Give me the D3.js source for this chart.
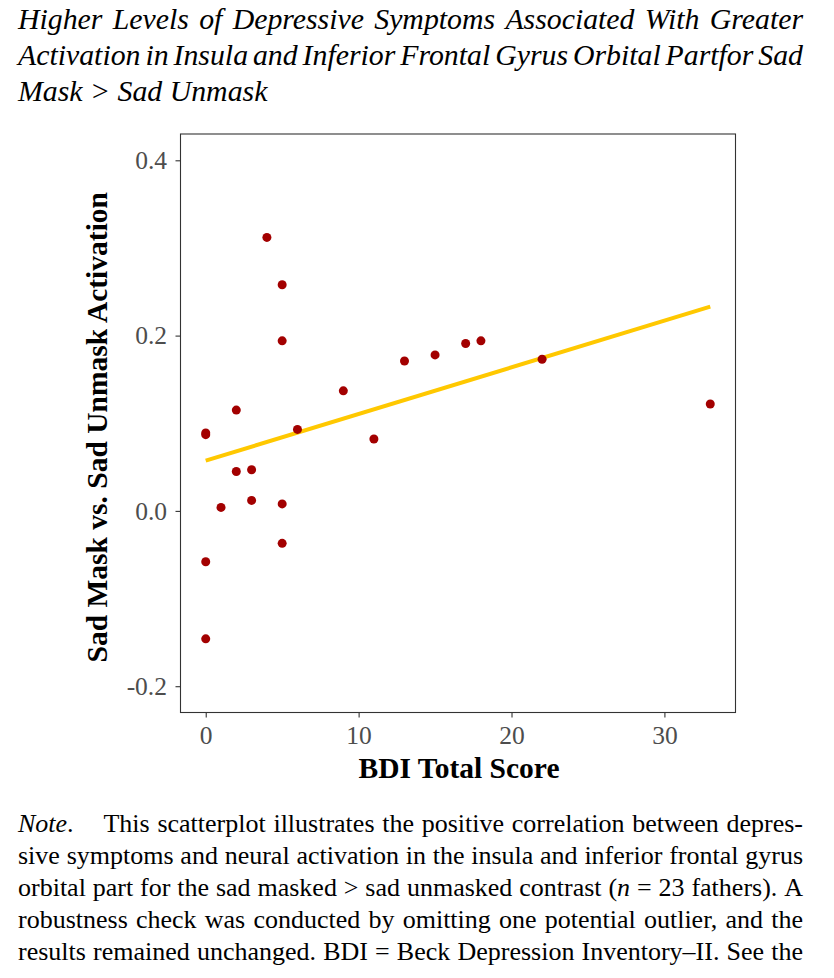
<!DOCTYPE html>
<html>
<head>
<meta charset="utf-8">
<script src="https://cdn.jsdelivr.net/npm/d3@7"></script>
<style>
  html, body { margin: 0; padding: 0; background: #fff; }
  svg { display: block; }
</style>
</head>
<body>
<script>
// ---------------- data ----------------
const bdi = [0, 0, 0, 0, 1, 2, 2, 3, 3, 4, 5, 5, 5, 5, 6, 9, 11, 13, 15, 17, 18, 22, 33];
const activation = [0.089, 0.087, -0.058, -0.146, 0.004, 0.115, 0.045, 0.047, 0.012, 0.312,
                    0.258, 0.194, 0.008, -0.037, 0.093, 0.137, 0.082, 0.171, 0.178, 0.191,
                    0.194, 0.173, 0.122];
const xTicks = [0, 10, 20, 30];
const yTicks = [-0.2, 0.0, 0.2, 0.4];
const yLimits = [-0.2, 0.4];
const xLabel = "BDI Total Score";
const yLabel = "Sad Mask vs. Sad Unmask Activation";
const titleLines = [
  "Higher Levels of Depressive Symptoms Associated With Greater",
  "Activation in Insula and Inferior Frontal Gyrus Orbital Partfor Sad",
  "Mask > Sad Unmask"
];
// *...* marks italic
const noteLines = [
  "*Note*. This scatterplot illustrates the positive correlation between depres-",
  "sive symptoms and neural activation in the insula and inferior frontal gyrus",
  "orbital part for the sad masked > sad unmasked contrast (*n* = 23 fathers). A",
  "robustness check was conducted by omitting one potential outlier, and the",
  "results remained unchanged. BDI = Beck Depression Inventory–II. See the"
];

// ---------------- setup ----------------
const W = 834, H = 978;
const SERIF = "'Liberation Serif', 'Times New Roman', Times, serif";
const svg = d3.select("body").append("svg").attr("width", W).attr("height", H);
svg.append("rect").attr("width", W).attr("height", H).attr("fill", "#fff");

const panel = { left: 180.5, right: 735.5, top: 134, bottom: 712.5 };

function expand(lim, f) { const r = lim[1] - lim[0]; return [lim[0] - r * f, lim[1] + r * f]; }
const x = d3.scaleLinear().domain(expand(d3.extent(bdi), 0.05)).range([panel.left, panel.right]);
const y = d3.scaleLinear().domain(expand(yLimits, 0.05)).range([panel.bottom, panel.top]);

// ---------------- justified text helper ----------------
function drawLine(str, baseY, opts) {
  const g = svg.append("g");
  const words = str.split(" ");
  const items = words.map(w => {
    const t = g.append("text").attr("y", baseY)
      .attr("font-family", SERIF).attr("font-size", opts.size)
      .attr("fill", "#000");
    const parts = w.split("*");
    parts.forEach((p, i) => {
      if (!p) return;
      const italic = opts.italic ? true : (i % 2 === 1);
      t.append("tspan").attr("font-style", italic ? "italic" : "normal").text(p);
    });
    return { node: t, w: t.node().getComputedTextLength(), raw: w };
  });
  const total = d3.sum(items, d => d.w);
  const extra = items.map((d, i) => (i < items.length - 1 && d.raw === "*Note*.") ? opts.size * 0.85 : 0);
  const nGaps = items.length - 1;
  let gap = opts.size * 0.25;
  if (opts.justify && nGaps > 0) gap = (opts.width - total - d3.sum(extra)) / nGaps;
  let cx = opts.x;
  items.forEach((d, i) => {
    d.node.attr("x", cx);
    cx += d.w + gap + extra[i];
  });
}

// ---------------- title ----------------
const titleY = [29, 65, 100.5];
titleLines.forEach((l, i) => drawLine(l, titleY[i], { x: 18, width: 785, size: 29.8, italic: true, justify: i < titleLines.length - 1 }));

// ---------------- note ----------------
const noteY0 = 832, noteDY = 32;
noteLines.forEach((l, i) => drawLine(l, noteY0 + i * noteDY, { x: 18, width: 785, size: 26, italic: false, justify: true }));

// ---------------- axes ----------------
const gx = svg.append("g").attr("transform", `translate(0,${panel.bottom})`)
  .call(d3.axisBottom(x).tickValues(xTicks).tickSize(5).tickPadding(8).tickFormat(d => String(d)));
const gy = svg.append("g").attr("transform", `translate(${panel.left},0)`)
  .call(d3.axisLeft(y).tickValues(yTicks).tickSize(5).tickPadding(8.5).tickFormat(d => d.toFixed(1)));
[gx, gy].forEach(g => {
  g.select(".domain").remove();
  g.selectAll(".tick line").attr("stroke", "#333").attr("stroke-width", 1.1);
  g.selectAll(".tick text").attr("font-family", SERIF).attr("font-size", 25.5).attr("fill", "#4d4d4d");
});

// ---------------- regression (OLS from data) ----------------
const mx = d3.mean(bdi), my = d3.mean(activation);
const sxy = d3.sum(bdi, (v, i) => (v - mx) * (activation[i] - my));
const sxx = d3.sum(bdi, v => (v - mx) * (v - mx));
const slope = sxy / sxx, intercept = my - slope * mx;
const xr = d3.extent(bdi);
svg.append("line")
  .attr("x1", x(xr[0])).attr("y1", y(intercept + slope * xr[0]))
  .attr("x2", x(xr[1])).attr("y2", y(intercept + slope * xr[1]))
  .attr("stroke", "#ffc800").attr("stroke-width", 4);

// ---------------- points ----------------
svg.append("g").selectAll("circle").data(bdi.map((v, i) => [v, activation[i]])).join("circle")
  .attr("cx", d => x(d[0])).attr("cy", d => y(d[1])).attr("r", 4.5)
  .attr("fill", "#a30000");

// ---------------- panel border ----------------
svg.append("rect")
  .attr("x", panel.left).attr("y", panel.top)
  .attr("width", panel.right - panel.left).attr("height", panel.bottom - panel.top)
  .attr("fill", "none").attr("stroke", "#333").attr("stroke-width", 1.1);

// ---------------- axis titles ----------------
svg.append("text")
  .attr("x", (panel.left + panel.right) / 2 + 1).attr("y", 777.5)
  .attr("text-anchor", "middle").attr("font-family", SERIF).attr("font-weight", "bold")
  .attr("font-size", 29.5).attr("fill", "#000").text(xLabel);
svg.append("text")
  .attr("transform", `translate(107,${(panel.top + panel.bottom) / 2 + 4}) rotate(-90)`)
  .attr("text-anchor", "middle").attr("font-family", SERIF).attr("font-weight", "bold")
  .attr("font-size", 29.5).attr("fill", "#000").text(yLabel);
</script>
</body>
</html>
